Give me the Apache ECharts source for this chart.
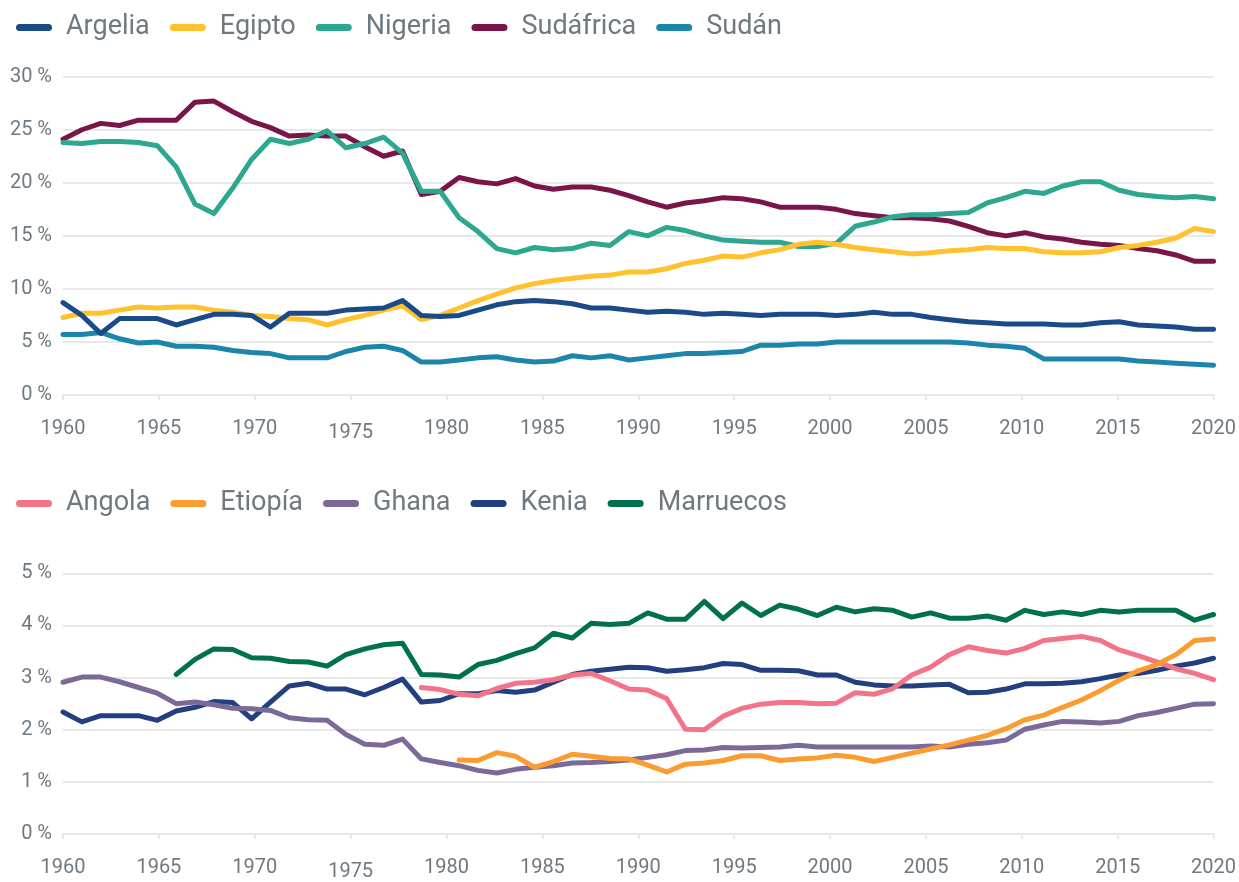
<!DOCTYPE html>
<html>
<head>
<meta charset="utf-8">
<script src="https://cdn.jsdelivr.net/npm/echarts@6/dist/echarts.min.js"></script>
<style>
html,body{margin:0;padding:0;background:#fff;}
#c{width:1239px;height:882px;}
</style>
</head>
<body>
<div id="c"></div>
<script>
// Data points: 62 yearly observations (1960-2021), spread over the axis labelled 1960-2020
const years = [];
for (let y = 1960; y <= 2021; y++) years.push(String(y));
const xTicks = [1960, 1965, 1970, 1975, 1980, 1985, 1990, 1995, 2000, 2005, 2010, 2015, 2020];

// Top panel (%)
const argelia = [8.7,7.5,5.8,7.2,7.2,7.2,6.6,7.1,7.6,7.6,7.5,6.4,7.7,7.7,7.7,8.0,8.1,8.2,8.9,7.5,7.4,7.5,8.0,8.5,8.8,8.9,8.8,8.6,8.2,8.2,8.0,7.8,7.9,7.8,7.6,7.7,7.6,7.5,7.6,7.6,7.6,7.5,7.6,7.8,7.6,7.6,7.3,7.1,6.9,6.8,6.7,6.7,6.7,6.6,6.6,6.8,6.9,6.6,6.5,6.4,6.2,6.2];
const egipto = [7.3,7.7,7.7,8.0,8.3,8.2,8.3,8.3,8.0,7.8,7.5,7.4,7.2,7.1,6.6,7.1,7.5,8.0,8.4,7.1,7.5,8.2,8.9,9.5,10.1,10.5,10.8,11.0,11.2,11.3,11.6,11.6,11.9,12.4,12.7,13.1,13.0,13.4,13.7,14.2,14.4,14.2,13.9,13.7,13.5,13.3,13.4,13.6,13.7,13.9,13.8,13.8,13.5,13.4,13.4,13.5,13.9,14.1,14.4,14.8,15.7,15.4];
const nigeria = [23.8,23.7,23.9,23.9,23.8,23.5,21.5,18.0,17.1,19.5,22.2,24.1,23.7,24.1,24.9,23.3,23.7,24.3,22.8,19.2,19.2,16.7,15.4,13.8,13.4,13.9,13.7,13.8,14.3,14.1,15.4,15.0,15.8,15.5,15.0,14.6,14.5,14.4,14.4,14.0,14.0,14.3,15.9,16.3,16.8,17.0,17.0,17.1,17.2,18.1,18.6,19.2,19.0,19.7,20.1,20.1,19.3,18.9,18.7,18.6,18.7,18.5];
const sudafrica = [24.1,25.0,25.6,25.4,25.9,25.9,25.9,27.6,27.7,26.7,25.8,25.2,24.4,24.5,24.4,24.4,23.4,22.5,23.0,18.9,19.2,20.5,20.1,19.9,20.4,19.7,19.4,19.6,19.6,19.3,18.8,18.2,17.7,18.1,18.3,18.6,18.5,18.2,17.7,17.7,17.7,17.5,17.1,16.9,16.7,16.7,16.6,16.4,15.9,15.3,15.0,15.3,14.9,14.7,14.4,14.2,14.1,13.8,13.6,13.2,12.6,12.6];
const sudan = [5.7,5.7,5.9,5.3,4.9,5.0,4.6,4.6,4.5,4.2,4.0,3.9,3.5,3.5,3.5,4.1,4.5,4.6,4.2,3.1,3.1,3.3,3.5,3.6,3.3,3.1,3.2,3.7,3.5,3.7,3.3,3.5,3.7,3.9,3.9,4.0,4.1,4.7,4.7,4.8,4.8,5.0,5.0,5.0,5.0,5.0,5.0,5.0,4.9,4.7,4.6,4.4,3.4,3.4,3.4,3.4,3.4,3.2,3.1,3.0,2.9,2.8];

// Bottom panel (%)
const angola = [null,null,null,null,null,null,null,null,null,null,null,null,null,null,null,null,null,null,null,2.81,2.77,2.68,2.65,2.79,2.89,2.91,2.96,3.05,3.08,2.94,2.78,2.76,2.60,2.01,2.00,2.26,2.41,2.49,2.52,2.52,2.50,2.51,2.71,2.68,2.79,3.05,3.20,3.44,3.59,3.52,3.47,3.56,3.71,3.75,3.79,3.71,3.53,3.42,3.30,3.17,3.08,2.96];
const etiopia = [null,null,null,null,null,null,null,null,null,null,null,null,null,null,null,null,null,null,null,null,null,1.42,1.41,1.56,1.49,1.28,1.39,1.53,1.49,1.45,1.44,1.32,1.19,1.34,1.36,1.41,1.50,1.50,1.41,1.44,1.46,1.51,1.47,1.39,1.47,1.55,1.63,1.71,1.80,1.89,2.02,2.19,2.28,2.43,2.57,2.75,2.95,3.13,3.25,3.44,3.71,3.74];
const ghana = [2.91,3.01,3.01,2.92,2.81,2.70,2.50,2.53,2.48,2.41,2.40,2.37,2.23,2.19,2.18,1.91,1.72,1.70,1.82,1.44,1.37,1.31,1.22,1.17,1.24,1.28,1.31,1.36,1.37,1.39,1.42,1.47,1.52,1.60,1.61,1.66,1.65,1.66,1.67,1.70,1.67,1.67,1.67,1.67,1.67,1.67,1.69,1.67,1.72,1.75,1.80,2.01,2.09,2.16,2.15,2.13,2.16,2.27,2.33,2.41,2.49,2.50];
const kenia = [2.34,2.15,2.27,2.27,2.27,2.18,2.36,2.43,2.54,2.52,2.21,2.53,2.84,2.89,2.78,2.78,2.67,2.81,2.97,2.53,2.56,2.69,2.69,2.75,2.72,2.76,2.91,3.06,3.12,3.16,3.20,3.19,3.12,3.15,3.19,3.27,3.25,3.14,3.14,3.13,3.05,3.05,2.91,2.86,2.84,2.84,2.86,2.87,2.71,2.72,2.78,2.88,2.88,2.89,2.92,2.98,3.05,3.08,3.14,3.22,3.28,3.37];
const marruecos = [null,null,null,null,null,null,3.06,3.35,3.55,3.54,3.38,3.37,3.31,3.30,3.22,3.44,3.55,3.63,3.66,3.06,3.05,3.01,3.25,3.33,3.46,3.57,3.85,3.76,4.04,4.02,4.04,4.24,4.12,4.12,4.46,4.13,4.43,4.19,4.39,4.31,4.19,4.35,4.26,4.32,4.29,4.16,4.24,4.14,4.14,4.18,4.10,4.29,4.21,4.26,4.21,4.29,4.26,4.29,4.29,4.29,4.10,4.21];

const topNames = ['Argelia','Egipto','Nigeria','Sudáfrica','Sudán'];
const botNames = ['Angola','Etiopía','Ghana','Kenia','Marruecos'];

const C = {
  'Argelia':'#1b4a88','Egipto':'#ffc22e','Nigeria':'#2da78f','Sudáfrica':'#7a154a','Sudán':'#1b86a9',
  'Angola':'#f37489','Etiopía':'#fc9c30','Ghana':'#7b6a97','Kenia':'#223f7f','Marruecos':'#00704f'
};
const FONT = 'Roboto';
const TXT = '#6e7981';
const GRIDC = '#e8e8e8';
const capsule = 'path://M3.5,0L32.5,0A3.5,3.5,0,0,1,32.5,7L3.5,7A3.5,3.5,0,0,1,3.5,0Z';

function line(name, data, gi) {
  return {
    name, type:'line', data, xAxisIndex: gi*2, yAxisIndex: gi,
    symbol:'none', connectNulls:false, smooth:false,
    lineStyle:{color:C[name], width:5, cap:'round', join:'round'},
    itemStyle:{color:C[name]},
    emphasis:{disabled:true}, animation:false
  };
}

function xLabelFmt(v){ return v === 1975 ? '{o|1975}' : '{n|' + v + '}'; }
const xRich = {
  n:{fontFamily:FONT, fontSize:20, color:TXT},
  o:{fontFamily:FONT, fontSize:20, color:TXT, padding:[4,0,0,0]}
};

function axesFor(gi) {
  return [
    {type:'category', gridIndex:gi, data:years, boundaryGap:false, show:false, position:'top'},
    {type:'value', gridIndex:gi, min:1960, max:2020, interval:5, position:'bottom',
     axisLine:{show:true, lineStyle:{color:GRIDC, width:2}},
     axisTick:{show:true, length:5, lineStyle:{color:GRIDC, width:2}},
     splitLine:{show:false},
     axisLabel:{formatter:xLabelFmt, rich:xRich, margin:24, color:TXT, fontFamily:FONT, fontSize:20}
    }
  ];
}

const option = {
  backgroundColor:'#ffffff',
  animation:false,
  textStyle:{fontFamily:FONT},
  legend:[
    {data:topNames, left:11, top:9, itemWidth:36, itemHeight:7, itemGap:20, icon:capsule,
     textStyle:{fontFamily:FONT, fontSize:27, color:TXT, padding:[0,0,0,9]}, selectedMode:false},
    {data:botNames, left:11, top:485, itemWidth:36, itemHeight:7, itemGap:20, icon:capsule,
     textStyle:{fontFamily:FONT, fontSize:27, color:TXT, padding:[0,0,0,9]}, selectedMode:false}
  ],
  grid:[
    {left:63, right:24, top:76.7, height:318.3},
    {left:63, right:24, top:573.3, height:265.2}
  ],
  xAxis:[...axesFor(0), ...axesFor(1)],
  yAxis:[
    {type:'value', gridIndex:0, min:0, max:30, interval:5,
     axisLine:{show:false}, axisTick:{show:false},
     splitLine:{lineStyle:{color:GRIDC, width:2}},
     axisLabel:{formatter:v=>v+' %', margin:11, color:TXT, fontFamily:FONT, fontSize:20}},
    {type:'value', gridIndex:1, min:0, max:5, interval:1,
     axisLine:{show:false}, axisTick:{show:false},
     splitLine:{lineStyle:{color:GRIDC, width:2}},
     axisLabel:{formatter:v=>v+' %', margin:11, color:TXT, fontFamily:FONT, fontSize:20}}
  ],
  series:[
    line('Sudán', sudan, 0),
    line('Sudáfrica', sudafrica, 0),
    line('Nigeria', nigeria, 0),
    line('Egipto', egipto, 0),
    line('Argelia', argelia, 0),
    line('Marruecos', marruecos, 1),
    line('Kenia', kenia, 1),
    line('Ghana', ghana, 1),
    line('Angola', angola, 1),
    line('Etiopía', etiopia, 1)
  ]
};

const chart = echarts.init(document.getElementById('c'), null, {renderer:'canvas'});
chart.setOption(option);
</script>
</body>
</html>
